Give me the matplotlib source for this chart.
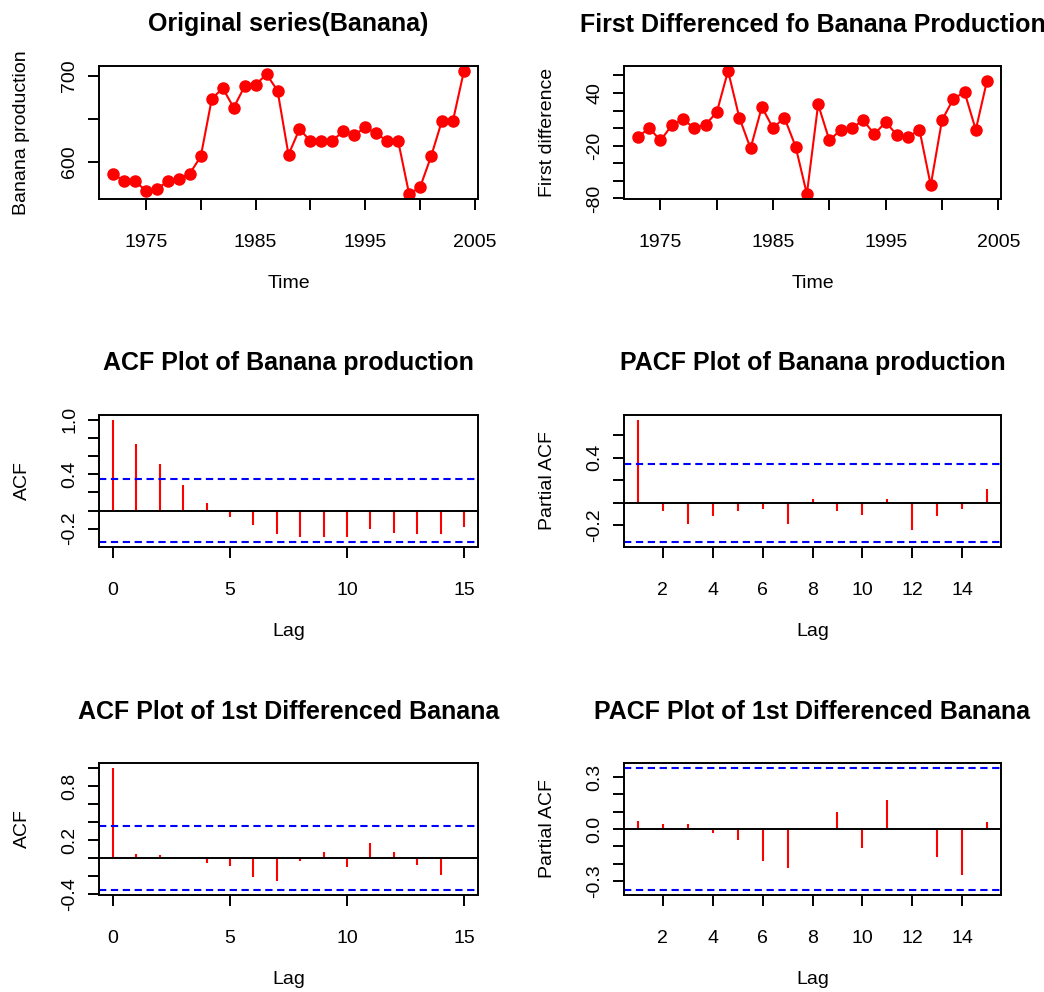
import numpy as np
import matplotlib
matplotlib.use("Agg")
import matplotlib.pyplot as plt

plt.rcParams['font.family'] = ['Liberation Sans', 'DejaVu Sans']

# yearly banana production
years = np.arange(1972, 2005)
production = [586, 577, 577, 566, 568, 577, 580, 586, 606, 673,
              686, 663, 688, 690, 702, 683, 608, 638, 624, 624,
              624, 636, 631, 640, 633, 624, 624, 562, 570, 606,
              648, 648, 706]

# first differences (1973-2004)
diff_years = np.arange(1973, 2005)
first_diff = [-10, 0, -14, 3, 10, 0, 4, 18, 65, 12,
              -23, 24, 0, 12, -21, -75, 27, -14, -2, 0,
              9, -7, 7, -8, -10, -2, -65, 9, 33, 41,
              -2, 54]

# autocorrelations of the series
acf_lags = np.arange(0, 16)
acf_orig = [1.0, 0.735, 0.51, 0.28, 0.08, -0.075, -0.16, -0.26,
            -0.29, -0.29, -0.29, -0.20, -0.245, -0.26, -0.26, -0.185]
pacf_lags = np.arange(1, 16)
pacf_orig = [0.737, -0.07, -0.19, -0.12, -0.07, -0.055, -0.19, 0.035,
             -0.07, -0.105, 0.035, -0.24, -0.12, -0.055, 0.125]

# autocorrelations of the differenced series
acf_diff = [1.0, 0.05, 0.03, 0.004, -0.048, -0.085, -0.205, -0.25,
            -0.026, 0.07, -0.10, 0.17, 0.07, -0.07, -0.19, 0.003]
pacf_diff = [0.047, 0.027, 0.027, -0.025, -0.066, -0.184, -0.224, 0.003,
             0.10, -0.11, 0.165, 0.003, -0.16, -0.265, 0.038]

n_orig = len(production)
n_diff = len(first_diff)

year_ticks = [1975, 1980, 1985, 1990, 1995, 2000, 2005]
year_labels = ['1975', '', '1985', '', '1995', '', '2005']

W, H = 1044, 992
fig = plt.figure(figsize=(W / 100, H / 100), dpi=100)


def make_axes(left, top, right, bottom):
    return fig.add_axes([left / W, 1 - bottom / H, (right - left) / W, (bottom - top) / H])


def rlim(vals):
    lo, hi = min(vals), max(vals)
    d = 0.04 * (hi - lo)
    return lo - d, hi + d


def style(ax, title, title_gap, xlabel, ylabel, yticks, ylabels):
    for s in ax.spines.values():
        s.set_linewidth(1.4)
    ax.tick_params(direction='out', length=8, width=1.4, labelsize=14, colors='black')
    ax.tick_params(axis='x', pad=17)
    ax.tick_params(axis='y', pad=7)
    ax.set_yticks(yticks)
    ax.set_yticklabels(ylabels, rotation=90, va='center')
    h = ax.get_position().height * H
    w = ax.get_position().width * W
    ax.set_title(title, fontsize=18, fontweight='bold', pad=0,
                 y=1 + title_gap / h, va='center')
    ax.set_xlabel(xlabel, fontsize=14, va='center')
    ax.xaxis.set_label_coords(0.5, -85 / h)
    ax.set_ylabel(ylabel, fontsize=14, va='center')
    ax.yaxis.set_label_coords(-77 / w, 0.5)


def corr_plot(ax, lags, vals, n):
    ci = 2 / np.sqrt(n)
    ax.vlines(lags, 0, vals, color='red', lw=1.5)
    ax.axhline(0, color='black', lw=1.4)
    for c in (ci, -ci):
        ax.axhline(c, color='blue', lw=1.5, linestyle=(0, (3.5, 2.2)))
    ax.set_xlim(*rlim(list(lags)))
    ax.set_ylim(*rlim(list(vals) + [ci, -ci]))


# original series
ax1 = make_axes(99, 66, 478, 199)
ax1.plot(years, production, color='red', lw=1.5, marker='o', ms=8)
ax1.set_xlim(*rlim(years))
ax1.set_ylim(*rlim(production))
ax1.set_xticks(year_ticks)
ax1.set_xticklabels(year_labels)
style(ax1, 'Original series(Banana)', 41.5, 'Time', 'Banana production',
      [600, 650, 700], ['600', '', '700'])

# first differences
ax2 = make_axes(624, 66, 1001, 199)
ax2.plot(diff_years, first_diff, color='red', lw=1.5, marker='o', ms=8)
ax2.set_xlim(*rlim(diff_years))
ax2.set_ylim(*rlim(first_diff))
ax2.set_xticks(year_ticks)
ax2.set_xticklabels(year_labels)
style(ax2, 'First Differenced fo Banana Production', 41.5, 'Time', 'First difference',
      np.arange(-80, 61, 20), ['-80', '', '', '-20', '', '', '40', ''])

# ACF / PACF of original
ax3 = make_axes(99, 415, 478, 547)
corr_plot(ax3, acf_lags, acf_orig, n_orig)
ax3.set_xticks([0, 5, 10, 15])
style(ax3, 'ACF Plot of Banana production', 52, 'Lag', 'ACF',
      [-0.2, 0.0, 0.2, 0.4, 0.6, 0.8, 1.0], ['-0.2', '', '', '0.4', '', '', '1.0'])

ax4 = make_axes(624, 415, 1001, 547)
corr_plot(ax4, pacf_lags, pacf_orig, n_orig)
ax4.set_xticks(np.arange(2, 15, 2))
style(ax4, 'PACF Plot of Banana production', 52, 'Lag', 'Partial ACF',
      [-0.2, 0.0, 0.2, 0.4, 0.6], ['-0.2', '', '', '0.4', ''])

# ACF / PACF of differenced
ax5 = make_axes(99, 763, 478, 895)
corr_plot(ax5, acf_lags, acf_diff, n_diff)
ax5.set_xticks([0, 5, 10, 15])
style(ax5, 'ACF Plot of 1st Differenced Banana', 51, 'Lag', 'ACF',
      [-0.4, -0.2, 0.0, 0.2, 0.4, 0.6, 0.8, 1.0],
      ['-0.4', '', '', '0.2', '', '', '0.8', ''])

ax6 = make_axes(624, 763, 1001, 895)
corr_plot(ax6, pacf_lags, pacf_diff, n_diff)
ax6.set_xticks(np.arange(2, 15, 2))
style(ax6, 'PACF Plot of 1st Differenced Banana', 51, 'Lag', 'Partial ACF',
      [-0.3, -0.2, -0.1, 0.0, 0.1, 0.2, 0.3],
      ['-0.3', '', '', '0.0', '', '', '0.3'])

fig.savefig('out.png', dpi=100)
